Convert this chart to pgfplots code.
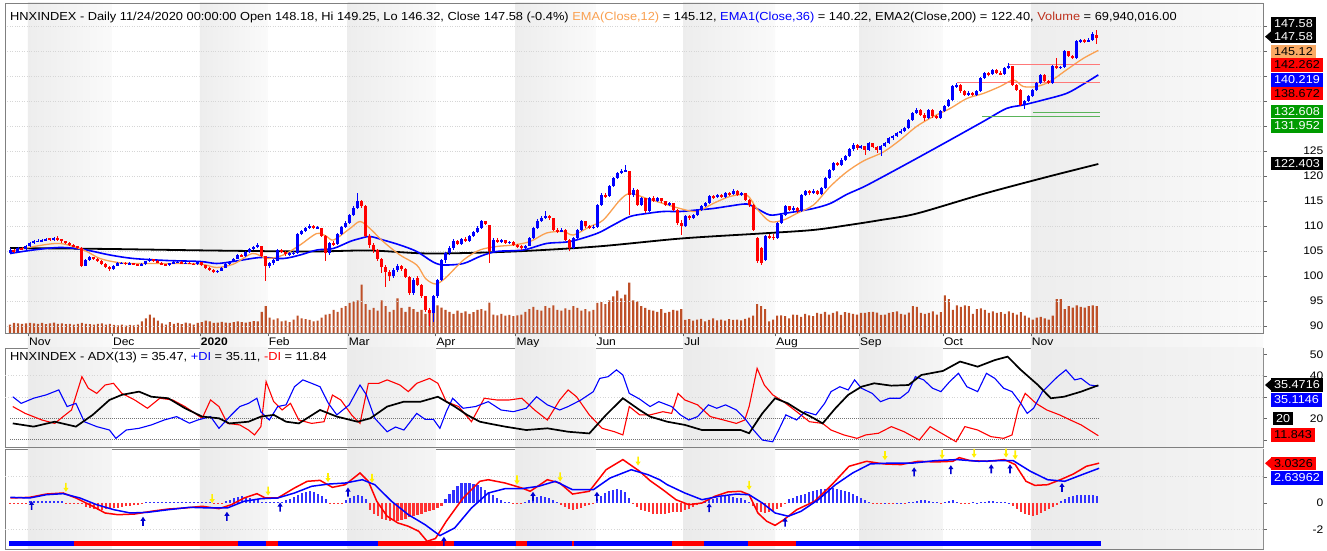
\documentclass[border=0pt]{standalone}
\usepackage{pgfplots}
\pgfplotsset{compat=1.18}
\usepackage{pgfplotstable}
\usepackage{fontspec}
\setmainfont{Liberation Sans}[FakeStretch=1.1]
\definecolor{cblue}{RGB}{0,0,255}
\definecolor{cred}{RGB}{255,0,0}
\definecolor{hblue}{RGB}{50,50,255}
\definecolor{hred}{RGB}{255,50,50}
\definecolor{corange}{RGB}{250,170,100}
\definecolor{emaor}{RGB}{250,160,80}
\definecolor{volc}{RGB}{190,80,40}
\definecolor{cgreen}{RGB}{0,155,0}
\definecolor{supred}{RGB}{255,120,120}
\definecolor{supgreen}{RGB}{90,180,90}
\definecolor{arrblue}{RGB}{0,0,210}
\definecolor{arryel}{RGB}{255,240,0}
\definecolor{titlered}{RGB}{190,50,30}

\pgfdeclareplotmark{uparr}{%
 \pgfpathmoveto{\pgfpoint{0bp}{4.5bp}}\pgfpathlineto{\pgfpoint{2.6bp}{0.5bp}}%
 \pgfpathlineto{\pgfpoint{0.8bp}{0.5bp}}\pgfpathlineto{\pgfpoint{0.8bp}{-4.5bp}}%
 \pgfpathlineto{\pgfpoint{-0.8bp}{-4.5bp}}\pgfpathlineto{\pgfpoint{-0.8bp}{0.5bp}}%
 \pgfpathlineto{\pgfpoint{-2.6bp}{0.5bp}}\pgfpathclose\pgfusepathqfill}
\pgfdeclareplotmark{dnarr}{%
 \pgfpathmoveto{\pgfpoint{0bp}{-4.5bp}}\pgfpathlineto{\pgfpoint{2.6bp}{-0.5bp}}%
 \pgfpathlineto{\pgfpoint{0.8bp}{-0.5bp}}\pgfpathlineto{\pgfpoint{0.8bp}{4.5bp}}%
 \pgfpathlineto{\pgfpoint{-0.8bp}{4.5bp}}\pgfpathlineto{\pgfpoint{-0.8bp}{-0.5bp}}%
 \pgfpathlineto{\pgfpoint{-2.6bp}{-0.5bp}}\pgfpathclose\pgfusepathqfill}

\pgfplotstableread{
o h l c v
104.6 105.5 104.4 105.2 22
105.2 105.4 104.6 104.8 26
104.8 105.7 104.7 105.5 25
105.5 105.8 105.2 105.4 24
105.3 106.1 105.2 105.9 25
105.9 106.7 105.7 106.5 26
106.5 107.1 106.3 106.9 25
106.9 107.3 106.7 107.0 24
107.0 107.4 106.8 107.1 26
107.1 107.6 106.9 107.4 23
107.5 107.6 107.0 107.2 25
107.2 107.7 107.0 107.5 27
107.5 107.9 107.0 107.3 24
107.3 107.4 106.6 106.9 25
106.9 107.0 106.3 106.5 23
106.5 106.7 106.0 106.2 24
106.2 106.3 105.7 105.9 22
105.9 106.0 105.4 105.6 24
105.6 105.7 101.8 102.0 26
102.0 103.4 101.9 103.2 24
103.2 103.9 103.0 103.7 23
103.7 103.8 103.1 103.4 22
103.4 103.5 102.8 103.0 24
103.0 103.1 102.2 102.4 25
102.4 102.5 101.6 101.8 22
101.8 102.0 100.9 101.3 24
101.3 102.2 101.2 102.0 21
102.0 102.7 101.9 102.5 20
102.5 102.8 102.3 102.6 22
102.6 102.7 102.2 102.4 19
102.4 102.7 102.2 102.5 21
102.5 102.6 102.1 102.3 20
102.3 102.4 101.9 102.0 22
102.0 102.5 101.9 102.3 30
102.3 103.0 102.2 102.9 38
102.9 103.6 102.8 103.3 48
103.3 103.4 102.8 103.0 40
103.0 103.1 102.5 102.6 32
102.6 102.7 102.1 102.3 25
102.3 102.4 101.9 102.1 22
102.1 102.6 102.0 102.5 28
102.5 102.9 102.4 102.7 24
102.7 103.0 102.6 102.8 26
102.8 102.9 102.4 102.5 23
102.5 102.8 102.4 102.6 27
102.6 102.7 102.3 102.4 25
102.4 102.5 102.1 102.3 22
102.3 102.9 102.2 102.7 26
102.7 102.8 102.0 102.1 28
102.1 102.2 101.4 101.6 32
101.6 101.7 100.9 101.1 30
101.1 101.3 100.6 100.8 26
100.8 101.2 100.6 101.0 27
101.0 101.8 100.9 101.6 29
101.6 102.5 101.5 102.3 27
102.3 103.0 102.2 102.8 26
102.8 103.6 102.7 103.4 28
103.4 104.3 103.3 104.1 30
104.1 104.3 103.7 103.9 28
103.9 104.9 103.8 104.7 27
104.7 105.5 104.5 105.3 29
105.3 106.0 105.1 105.8 31
105.8 106.5 105.6 106.2 30
105.9 106.0 103.7 103.9 55
103.9 104.0 98.9 101.9 70
101.9 102.8 101.5 102.5 40
102.5 103.4 102.2 103.2 35
103.0 105.3 102.9 105.2 38
105.2 105.4 104.6 104.8 30
104.8 104.9 104.0 104.3 32
104.3 104.7 104.0 104.5 28
104.5 104.9 104.2 104.6 35
104.5 108.6 104.4 108.4 45
108.4 109.1 108.2 108.9 38
108.9 109.7 108.7 109.5 36
109.5 110.3 109.3 109.9 34
109.9 110.1 109.3 109.5 30
109.5 110.0 109.3 109.7 32
109.5 109.6 107.8 108.0 40
108.0 108.1 102.9 104.5 48
104.5 106.8 104.2 106.6 50
106.6 107.0 106.0 106.3 60
106.3 108.6 106.2 108.4 55
108.4 110.0 108.2 109.8 65
109.8 110.9 109.5 110.6 70
110.6 112.4 110.4 112.1 78
112.1 113.9 111.9 113.6 82
113.6 116.5 113.4 114.9 85
114.9 115.2 113.6 113.9 126
114.0 114.2 107.8 108.0 75
108.0 108.3 105.6 106.1 60
106.1 106.5 104.6 105.2 65
105.2 105.4 102.9 103.4 58
103.4 103.6 100.5 101.8 85
101.8 102.1 97.8 100.8 70
100.8 101.1 98.9 100.0 55
100.0 101.5 99.6 101.2 60
101.2 102.3 100.8 101.9 90
101.9 102.1 101.0 101.3 65
101.3 101.5 99.5 99.8 55
99.8 100.0 96.2 96.5 68
96.5 99.6 96.2 99.2 62
99.6 99.9 97.9 98.2 55
98.2 98.4 95.5 95.9 60
95.9 96.0 92.8 93.2 50
93.2 93.6 89.9 92.5 58
92.5 96.1 90.8 95.9 62
95.9 99.4 95.6 99.2 72
99.2 103.4 99.0 103.2 66
103.2 104.8 102.6 104.5 60
104.5 105.9 104.2 105.5 55
105.5 107.3 105.2 107.0 50
107.0 107.2 106.1 106.4 58
106.4 107.6 106.2 107.4 52
107.4 107.8 106.8 107.0 56
107.0 108.2 106.8 108.0 50
108.0 109.0 107.8 108.8 54
108.8 109.9 108.6 109.6 60
109.6 111.2 109.4 110.9 62
110.9 111.0 110.1 110.4 58
110.1 110.2 102.5 104.9 79
104.9 107.6 104.6 107.2 48
107.2 107.6 106.5 106.8 46
106.8 107.4 106.6 107.1 50
107.1 107.2 106.3 106.6 45
106.6 107.0 106.3 106.8 47
106.8 106.9 106.0 106.2 44
106.2 106.4 105.6 105.9 46
105.9 106.1 105.2 105.5 48
105.5 106.2 105.3 106.0 55
106.0 107.7 105.9 107.5 62
107.5 109.7 107.4 109.5 68
109.5 111.3 109.3 111.0 60
111.0 111.9 110.8 111.6 58
111.6 112.9 111.4 111.9 70
111.9 112.2 111.2 111.5 65
111.5 111.6 108.9 109.2 72
109.2 109.5 108.6 108.9 60
108.9 109.5 108.7 109.2 58
109.2 109.3 107.0 107.2 64
107.2 107.3 104.9 105.6 60
105.6 107.7 105.4 107.5 70
107.5 109.4 107.3 109.2 65
109.2 111.2 109.0 110.9 58
110.9 111.0 109.6 109.9 62
109.9 110.2 109.3 109.6 56
109.6 110.1 109.3 109.8 60
109.8 114.4 109.6 114.2 78
114.2 116.5 114.0 116.2 80
116.2 116.6 115.6 115.9 75
115.9 118.1 115.8 117.9 85
117.9 119.7 117.7 119.5 95
119.5 120.8 119.3 120.5 110
120.5 121.3 120.3 120.9 90
120.9 122.2 120.7 121.1 100
120.9 121.0 112.2 116.2 131
116.2 117.6 115.8 117.2 85
117.2 117.3 113.9 114.2 82
114.2 115.8 114.0 115.5 70
115.5 115.6 112.6 112.9 65
112.9 115.8 112.7 115.5 60
115.5 115.9 114.7 115.0 58
115.0 115.8 114.8 115.5 55
115.5 115.6 114.6 114.9 62
114.9 115.0 114.0 114.2 52
114.2 114.8 114.0 114.5 55
114.5 114.6 113.0 113.2 60
113.2 113.3 110.2 110.5 58
110.5 111.2 108.2 109.9 62
109.9 112.2 109.7 111.9 34
111.9 112.1 111.2 111.5 36
111.5 112.4 111.3 112.2 32
112.2 113.4 112.0 113.2 35
113.2 114.1 113.0 113.9 37
113.9 114.8 113.7 114.5 30
114.5 116.1 114.3 115.9 34
115.9 116.2 115.4 115.7 38
115.7 116.4 115.5 116.1 33
116.1 116.3 115.5 115.8 35
115.8 116.8 115.6 116.5 32
116.5 116.8 116.0 116.3 36
116.3 117.3 116.1 117.0 34
117.0 117.2 116.0 116.2 35
116.2 116.8 116.0 116.5 33
116.5 116.6 115.0 115.2 37
115.2 115.3 113.8 114.2 40
114.2 114.3 109.0 109.2 45
107.6 107.8 102.6 102.9 75
105.5 105.8 102.2 102.6 70
103.2 108.1 103.0 107.9 62
107.9 108.3 107.4 107.8 30
107.8 108.3 107.2 107.6 35
107.6 110.7 107.4 110.5 45
110.5 112.4 110.3 112.2 46
112.2 114.1 112.0 113.9 44
113.9 114.0 112.9 113.2 38
113.2 113.9 113.0 113.6 48
113.6 113.8 112.6 112.9 47
112.9 116.4 112.7 116.2 42
116.2 117.2 116.0 116.9 50
116.9 117.1 116.2 116.5 46
116.5 117.3 116.3 117.0 44
117.0 117.1 116.1 116.4 52
116.4 117.7 116.2 117.5 50
117.5 119.7 117.3 119.5 55
119.5 121.4 119.3 121.2 48
121.2 122.8 121.0 122.5 52
122.5 122.8 121.9 122.2 56
122.2 123.5 122.0 123.2 47
123.2 124.2 123.0 123.9 54
123.9 125.5 123.7 125.3 52
125.3 126.5 125.0 126.2 50
126.2 126.4 125.2 125.5 48
125.5 126.2 125.3 125.9 52
125.9 126.0 124.2 125.2 52
125.2 126.7 125.0 126.5 54
126.5 126.6 125.5 125.8 55
125.8 125.9 124.6 125.2 53
125.2 126.1 123.9 125.9 47
125.9 126.7 125.7 126.5 48
126.5 127.7 126.3 127.5 52
127.5 128.1 127.2 127.9 54
127.9 128.8 127.7 128.5 56
128.5 129.3 128.3 128.9 50
128.9 129.8 128.7 129.5 48
129.5 131.4 129.3 131.2 53
131.2 132.7 131.0 132.5 70
132.5 133.5 132.3 133.2 68
133.2 133.4 131.9 132.2 52
132.2 132.5 131.0 131.5 50
131.5 133.4 131.3 133.2 52
133.2 133.3 131.6 131.9 56
131.9 132.2 131.3 131.6 48
131.6 133.1 131.4 132.9 54
132.9 134.1 132.7 133.9 98
133.9 135.4 133.7 135.2 88
135.2 138.1 135.0 137.9 60
137.9 138.6 137.6 138.2 72
138.2 138.4 136.6 136.9 68
136.9 137.1 136.0 136.2 72
136.2 136.9 136.0 136.6 70
136.6 136.8 135.9 136.2 50
136.2 137.1 136.0 136.9 62
136.9 139.7 136.7 139.5 64
139.5 140.7 139.3 140.5 60
140.5 140.8 140.0 140.3 52
140.3 141.4 140.1 141.2 56
141.2 141.3 140.3 140.5 52
140.5 140.9 140.1 140.4 54
140.4 141.7 140.2 141.5 50
141.5 142.5 141.3 141.9 56
141.9 142.0 138.0 138.2 52
138.2 138.4 137.0 137.2 48
137.2 137.3 134.0 134.2 54
134.2 135.1 133.3 134.9 45
134.9 136.1 134.7 135.9 40
135.9 137.4 135.7 137.2 35
137.2 138.7 137.0 138.5 40
138.5 140.4 138.3 140.2 42
140.2 140.3 138.7 138.9 38
138.9 139.2 138.4 138.6 35
138.6 142.1 138.4 141.9 45
141.9 143.5 141.4 141.6 88
141.6 142.0 141.3 141.8 88
141.8 145.1 141.6 144.9 62
144.9 145.0 143.7 143.9 70
143.9 144.2 143.3 143.5 66
143.5 147.1 143.3 146.9 72
146.9 147.4 146.6 147.1 68
147.1 147.3 146.6 146.9 66
146.9 147.5 146.7 147.2 70
147.2 148.7 147.0 148.3 72
148.18 149.25 146.32 147.58 70
}\candles

\newcommand\stripes[3]{%
\path[#3] (axis cs:4.5,#1) rectangle (axis cs:25.5,#2);
\path[#3] (axis cs:47.5,#1) rectangle (axis cs:64.5,#2);
\path[#3] (axis cs:84.5,#1) rectangle (axis cs:106.5,#2);
\path[#3] (axis cs:126.5,#1) rectangle (axis cs:146.5,#2);
\path[#3] (axis cs:168.5,#1) rectangle (axis cs:191.5,#2);
\path[#3] (axis cs:212.5,#1) rectangle (axis cs:233.5,#2);
\path[#3] (axis cs:255.5,#1) rectangle (axis cs:313.64,#2);}

\pgfplotsset{
 every axis/.append style={scale only axis, width=1258bp, anchor=south west,
   xmin=-1.252, xmax=313.64,
   /pgf/number format/assume math mode=true,
   ticklabel style={font=\fontsize{11}{13}\selectfont},
   axis line style={black!50}, tick style={black!60},
   tick align=outside, major tick length=3.5bp},
 rightticks/.style={ytick pos=right, yticklabel pos=right,
   yticklabel style={anchor=east, xshift=57bp, inner sep=0pt},
   xtick=\empty},
 wick/.style={draw=none, mark=none, forget plot, unbounded coords=discard,
   error bars/.cd, y dir=both, y explicit, error mark=none,
   error bar style={draw=#1, line width=0.9bp}},
 body/.style={draw=none, mark=none, forget plot, unbounded coords=discard,
   error bars/.cd, y dir=both, y explicit, error mark=none,
   error bar style={draw=#1, line width=3bp}},
}
\tikzset{vlab/.style={anchor=west, inner xsep=3bp, inner ysep=0pt,
  minimum height=13.5bp, font=\fontsize{11.5}{13}\selectfont}}

\begin{document}
\begin{tikzpicture}[x=1bp,y=1bp]
\useasboundingbox (0,0) rectangle (1327,551);
\fill[white] (0,0) rectangle (1327,551);

% background month stripes (price panel incl. label strip)
\begin{axis}[at={(5bp,203bp)}, height=345bp, ymin=0, ymax=1, hide axis]
\stripes{0}{1}{left color=black!7, right color=black!2}
\end{axis}

% volume
\begin{axis}[at={(5bp,218bp)}, height=330bp, ymin=0, ymax=858, hide axis]
\addplot[ybar, bar width=2.1bp, fill=volc, draw=none, forget plot]
  table[x expr=\coordindex, y=v] {\candles};
\end{axis}

% price
\begin{axis}[at={(5bp,218bp)}, height=330bp, ymin=88.6, ymax=154.6,
  ytick={90,95,...,150}, yticklabels={90,95,100,105,110,115,120,125,{},{},{},{},{}},
  ytick pos=right, yticklabel pos=right,
  yticklabel style={anchor=east, xshift=57bp, inner sep=0pt},
  ymajorgrids, grid style={dotted, black!16},
  xtick={4.5,25.5,47.5,64.5,84.5,106.5,126.5,146.5,168.5,191.5,212.5,233.5,255.5},
  xticklabels={Nov,Dec,\textbf{2020},Feb,Mar,Apr,May,Jun,Jul,Aug,Sep,Oct,Nov},
  xtick pos=left, xticklabel style={anchor=north west, xshift=1bp, inner sep=0pt, yshift=-1bp}]
\addplot[black, line width=1.8bp, smooth] coordinates {(0,105.6) (25,105.4) (50,105.1) (75,104.9) (90,105.1) (105,104.5) (126,104.9) (147,105.9) (168,107.5) (188,108.5) (201,109.2) (210,110.2) (218,111.2) (227,112.5) (244,116.5) (260,119.9) (272.4,122.4)};
\addplot[cblue, line width=1.6bp, smooth] coordinates {(0,104.5) (5.8,105.2) (12.5,105.7) (18.4,105.3) (25,104.2) (30.9,103.5) (39.2,103.1) (47.6,102.9) (51.7,102.5) (55.9,102.9) (62.6,103.7) (68.4,103.5) (72.6,104.2) (76.8,105.2) (80.9,105.5) (85.1,106.9) (87.6,107.5) (90.1,107.9) (93.4,107.2) (97.6,106.2) (101.8,104.9) (105.9,102.8) (108.5,102.2) (113.5,102.5) (117.6,103.9) (121.8,104.9) (128.5,105.2) (134.3,106.5) (140.2,106.9) (146.9,108.5) (151,110.2) (155.2,111.9) (159.4,112.5) (163.5,112.9) (167.7,112.9) (171.9,113.2) (176,113.5) (180.2,114.0) (184.4,114.4) (186.9,113.5) (190.2,112.2) (193.6,112.5) (196.9,112.9) (201.1,113.5) (205.3,114.5) (209.4,116.3) (213.6,117.8) (218.6,119.9) (226.9,123.5) (235.3,127.2) (243.6,130.9) (249.4,133.5) (253.6,134.2) (258.6,135.2) (264.4,136.5) (268.5,138.3) (272.4,140.22)};
\addplot[emaor, line width=1.3bp, smooth] coordinates {(0,104.9) (6,105.9) (12.5,106.5) (18.4,105.2) (22.5,103.5) (27,102.7) (31,102.5) (39,102.5) (47.6,102.4) (51.7,101.7) (56,102.4) (60.7,104.5) (64.4,103.5) (68.4,104.2) (72.6,106.2) (76.8,108.5) (79.3,107.9) (81,107.2) (85.1,109.5) (87.6,110.9) (90.1,109.5) (93.4,106.9) (97.6,104.2) (101.8,102.2) (104,99.5) (106.5,98.4) (109,99.6) (113.5,103.2) (117.6,105.2) (121.8,105.9) (126,106.2) (130.2,106.9) (134.3,108.6) (138.5,108.9) (141,108.2) (145.2,109.9) (148.5,111.2) (152.7,115.2) (155.2,116.5) (159.4,115.5) (163.5,114.5) (167.7,113.5) (171.9,112.9) (176,114.5) (180.2,115.9) (184.4,116.2) (186.9,113.5) (190.2,110.9) (193.6,111.2) (196.9,112.5) (201.1,114.2) (205.3,117.9) (209.4,120.8) (213.6,123.0) (218.6,124.8) (222.8,127.2) (226.9,129.9) (231.1,131.9) (235.3,133.5) (239.5,135.5) (243.6,136.5) (247.8,137.9) (251.2,139.2) (253.6,137.9) (257,137.9) (260.3,138.9) (264.4,141.2) (268.6,143.5) (272.4,145.12)};
\addplot[supred, line width=1.3bp] coordinates {(249.8,142.262) (272.8,142.262)};
\addplot[supred, line width=1.3bp] coordinates {(237,138.672) (272.8,138.672)};
\addplot[supgreen, line width=1bp] coordinates {(256,132.608) (272.8,132.608)};
\addplot[supgreen, line width=1bp] coordinates {(243.3,131.952) (272.8,131.952)};
% candles
\addplot[y filter/.expression={\thisrow{c}<\thisrow{o} ? nan : y}, wick=cblue]
  table[x expr=\coordindex, y expr={(\thisrow{h}+\thisrow{l})/2}, y error expr={(\thisrow{h}-\thisrow{l})/2}] {\candles};
\addplot[y filter/.expression={\thisrow{c}<\thisrow{o} ? y : nan}, wick=cred]
  table[x expr=\coordindex, y expr={(\thisrow{h}+\thisrow{l})/2}, y error expr={(\thisrow{h}-\thisrow{l})/2}] {\candles};
\addplot[y filter/.expression={\thisrow{c}<\thisrow{o} ? nan : y}, body=cblue]
  table[x expr=\coordindex, y expr={(\thisrow{o}+\thisrow{c})/2}, y error expr={max(abs(\thisrow{c}-\thisrow{o})/2,0.08)}] {\candles};
\addplot[y filter/.expression={\thisrow{c}<\thisrow{o} ? y : nan}, body=cred]
  table[x expr=\coordindex, y expr={(\thisrow{o}+\thisrow{c})/2}, y error expr={max(abs(\thisrow{c}-\thisrow{o})/2,0.08)}] {\candles};
\end{axis}

% ADX
\begin{axis}[at={(5bp,104bp)}, height=99bp, ymin=6.545, ymax=52.96,
  rightticks, ytick={10,20,30,40,50}, yticklabels={{},20,{},40,50}]
\stripes{6.545}{52.96}{left color=black!8, right color=black!4}
\addplot[black!16, dotted, line width=0.8bp, forget plot] coordinates {(-1.25,30) (313.6,30)};
\addplot[black!16, dotted, line width=0.8bp, forget plot] coordinates {(-1.25,40) (313.6,40)};
\addplot[black!55, densely dotted, line width=1bp] coordinates {(0,20) (272.5,20)};
\addplot[black!55, densely dotted, line width=1bp] coordinates {(0,10) (272.5,10)};
\addplot[cred, line width=1.1bp] coordinates {(0.7,25.5) (3.8,22.3) (8,19.2) (11.2,17.6) (13.3,20.8) (15.4,23.9) (18,39.5) (19.6,34.1) (21.7,31.7) (23.8,35.6) (25.9,36.4) (28,31.7) (31.2,28.6) (34.4,24.7) (37.5,29.4) (40.7,28.6) (43.8,25.5) (48.1,20) (50.2,28.6) (52.3,25.5) (54.4,17.6) (57.5,16.9) (59.7,14.5) (61.2,12.2) (62.8,16.1) (64.1,37.2) (66,27.8) (68.1,23.9) (70.2,27.0) (72.3,19.2) (75.5,17.6) (78.6,18.4) (80.7,30.9) (82.8,28.6) (85.5,21.6) (87.6,17.6) (89.7,36.4) (92.3,36.4) (94.4,38) (97.6,35.6) (99.7,32.5) (101.8,36.4) (105,38.7) (107.1,36.4) (109.2,27.8) (112.3,25.5) (115.5,18.4) (118.7,29.4) (121.8,28.6) (125,28.6) (128.1,29.4) (131.3,23.9) (134.5,19.2) (137.6,28.6) (139.7,33.3) (141.8,30.1) (145,21.6) (148.2,15.3) (151.3,13.7) (153.4,12.2) (155,25.5) (157.6,21.6) (160.2,21.6) (163.4,23.1) (165.6,22.3) (167.2,31.7) (168.9,28.6) (172.1,26.3) (175.3,20.8) (178.6,19.2) (181.8,17.6) (183.9,19.2) (185,25.5) (187,43.4) (188.8,35.6) (190.9,31) (193.6,27.8) (196.9,23.1) (200.1,18.4) (203.4,17.6) (205.5,14.5) (208.7,12.2) (212,10.6) (214.2,12.2) (217.4,13) (220.6,16.1) (223.8,13.7) (227.6,9.8) (230.3,16.1) (232.5,13.7) (236.8,9.0) (239,16.1) (242.2,14.5) (245.5,11.4) (248.7,10.6) (250.8,12.2) (252.4,24.7) (254.1,31.7) (256.8,27.0) (259.5,23.9) (262.7,21.6) (265.4,19.2) (268.1,16.9) (272.4,11.84)};
\addplot[cblue, line width=1.1bp] coordinates {(0.7,30.1) (2.8,27.0) (5.9,29.4) (9.1,31) (12.2,33.3) (14.3,25.5) (16.5,27) (18.6,18.4) (21.7,16.1) (24.9,14.5) (26.5,10.6) (29.1,14.5) (32.3,15.3) (35.4,16.9) (38.6,19.2) (41.7,20.8) (44.9,17.7) (47,19.2) (50.2,20.8) (52.3,15.3) (55.4,21.6) (57.5,25.5) (59.7,27.0) (61.8,29.4) (62.8,23) (64.9,19.2) (67,25.5) (69.1,26.3) (71.2,34.8) (73.3,38) (75.5,36.4) (77.6,34.8) (79.7,27.0) (81.8,21.6) (84.9,26.3) (87.6,35.6) (89.2,31) (91.3,20) (94.4,13.7) (96.5,15.9) (98.6,14.5) (101.8,22.3) (103.9,19.5) (106,19.5) (107.6,15.3) (109.2,23.1) (110.8,29.4) (113.4,24.7) (116.5,25.5) (119.7,27.8) (122.9,23.9) (126,23.1) (129.2,24.7) (131.8,30.1) (134.5,26.3) (137.6,23.9) (139.7,25.5) (142.9,28.6) (146,32.5) (147.6,38.7) (149.7,39.5) (151.8,42.7) (153.4,40.3) (155,31.7) (157.6,29) (160.2,25.5) (162.4,27.8) (165.6,25.5) (167.8,21.6) (169.9,19.2) (172.1,20.8) (174.8,26.3) (176.9,24.7) (179.1,26.3) (181.8,23.9) (183.9,20) (186.1,14.5) (188.3,9.8) (190.9,9.0) (192.6,15.3) (194.2,21.6) (196.9,19.2) (199,23.1) (201.7,21.6) (203.9,27.0) (205.5,32.5) (207.7,34.8) (209.8,33.3) (211.4,38) (213.1,34.1) (215.8,31.7) (217.9,27.8) (220.1,29.4) (222.8,29.4) (224.9,32.5) (226.6,39.5) (228.7,38) (230.9,34.1) (233,32.5) (235.2,37.2) (237.4,41.1) (239.5,34.8) (242.2,32.5) (244.4,41.1) (246.5,38.7) (248.7,34.1) (250.8,32.5) (253,27.0) (254.6,22.3) (256.2,24.7) (258.4,32.5) (260.5,36.4) (262.2,39.5) (264.3,42.7) (266.5,38) (268.1,38.7) (270.3,35.6) (272.4,35.11)};
\addplot[black, line width=1.7bp] coordinates {(0.7,17.6) (5.9,16.1) (11.2,18.4) (16.5,16.1) (20.7,21.6) (24.9,28.6) (28,31) (32.3,32.5) (35.4,30.1) (39.6,29.4) (43.8,24.7) (48.1,20.8) (52.3,20) (54.9,17.6) (59.7,18.4) (62.8,20.8) (66,21.6) (69.1,18.4) (72.3,17.6) (77.6,23.9) (81.8,20.8) (87,18.4) (90.2,20) (94.4,25.5) (98.6,27.8) (102.8,27.8) (107.1,30.1) (111.3,25.5) (114.4,21.6) (117.6,18.4) (119.7,17.6) (123.9,16.1) (129.2,14.5) (134.5,15.3) (139.7,13.7) (145,12.9) (149.2,21.6) (153.4,29.4) (157.6,23.9) (160.2,20.8) (164.5,18.4) (168.9,16.9) (173.2,14.5) (178.6,14.5) (182.9,14.5) (185,13) (188.3,22.3) (191.5,29.4) (194.7,27.0) (198,23.1) (201.2,20) (203.4,17.6) (206.6,24.7) (209.8,31) (213.1,34.8) (216.3,36.4) (220.6,35.3) (224.9,35.6) (228.1,40.3) (233.5,42.2) (237.8,46.6) (242.2,44.2) (246.5,47.3) (249.7,48.9) (253,42.7) (257.3,35.6) (260.5,29.4) (263.8,30.1) (268.1,32.5) (272.4,35.47)};
\end{axis}

% MACD
\begin{axis}[at={(5bp,2bp)}, height=100bp, ymin=-3.498, ymax=4.106,
  rightticks, ytick={-2,0,2}, yticklabels={-2,0,{}}]
\stripes{-3.498}{4.106}{left color=black!8, right color=black!4}
\addplot[black!16, dotted, line width=0.8bp, forget plot] coordinates {(-1.25,2) (313.6,2)};
\addplot[black!16, dotted, line width=0.8bp, forget plot] coordinates {(-1.25,-2) (313.6,-2)};
\addplot[ycomb, draw=hblue, line width=2.1bp, mark=none, forget plot] coordinates {
(5,0.12) (6,0.12) (7,0.12) (8,0.12) (9,0.12) (10,0.12) (11,0.12) (12,0.12) (13,0.12)
(34,0.08) (35,0.08) (36,0.08) (37,0.08) (38,0.08) (39,0.08) (40,0.08) (41,0.08) (42,0.08) (43,0.08) (44,0.08) (45,0.08) (46,0.08) (47,0.08) (48,0.08) (49,0.08) (50,0.08)
(54,0.15) (55,0.25) (56,0.35) (57,0.45) (58,0.5) (59,0.45) (60,0.4) (61,0.3) (62,0.2)
(63,0.1) (64,0.05) (65,0.08) (66,0.1) (67,0.08) (68,0.1) (69,0.2) (70,0.3)
(71,0.45) (72,0.6) (73,0.75) (74,0.85) (75,0.9) (76,0.85) (77,0.7) (78,0.5) (79,0.3)
(84,0.2) (85,0.35) (86,0.5) (87,0.6) (88,0.5) (89,0.3)
(109,0.3) (110,0.7) (111,1.0) (112,1.3) (113,1.5) (114,1.55) (115,1.5) (116,1.45) (117,1.35) (118,1.2) (119,1.0) (120,0.8) (121,0.6) (122,0.4) (123,0.2)
(124,0.08) (125,0.05) (129,0.05)
(130,0.2) (131,0.35) (132,0.45) (133,0.5) (134,0.45) (135,0.35) (136,0.2) (137,0.05)
(147,0.3) (148,0.55) (149,0.75) (150,0.9) (151,1.0) (152,1.05) (153,1.0) (154,0.8) (155,0.4)
(174,0.1) (175,0.2) (176,0.3) (177,0.4) (178,0.45) (179,0.5) (180,0.5) (181,0.45) (182,0.4) (183,0.35) (184,0.25) (185,0.1)
(195,0.3) (196,0.4) (197,0.5) (198,0.6) (199,0.7) (200,0.8) (201,0.9) (202,1.0) (203,1.05) (204,1.1) (205,1.15) (206,1.15) (207,1.1) (208,1.0) (209,0.9) (210,0.8) (211,0.65) (212,0.5) (213,0.35) (214,0.2) (215,0.1)
(219,0.03) (222,0.03) (223,0.03) (225,0.05)
(226,0.1) (227,0.15) (228,0.2) (229,0.2) (230,0.15) (231,0.08)
(232,0.05) (234,0.05) (235,0.15) (236,0.2) (237,0.1)
(241,0.05) (242,0.03) (243,0.05)
(244,0.1) (245,0.15) (246,0.12) (247,0.1) (248,0.08) (249,0.05) (250,0.03)
(263,0.15) (264,0.3) (265,0.45) (266,0.55) (267,0.6) (268,0.63) (269,0.63) (270,0.6) (271,0.6) (272,0.55)};
\addplot[ycomb, draw=hred, line width=2.1bp, mark=none, forget plot] coordinates {
(0,-0.05) (1,-0.05) (2,-0.05) (3,-0.05) (4,-0.05)
(14,-0.05) (15,-0.05) (16,-0.05) (17,-0.05) (18,-0.05)
(19,-0.3) (20,-0.38) (21,-0.45) (22,-0.5) (23,-0.5) (24,-0.48) (25,-0.45) (26,-0.4) (27,-0.35) (28,-0.3) (29,-0.25)
(30,-0.2) (31,-0.15) (32,-0.12) (33,-0.08)
(51,-0.08) (52,-0.08) (53,-0.08)
(80,-0.08) (81,-0.1) (82,-0.08) (83,-0.05)
(90,-0.5) (91,-0.8) (92,-1.0) (93,-1.2) (94,-1.3) (95,-1.4) (96,-1.4) (97,-1.35) (98,-1.3) (99,-1.2) (100,-1.1) (101,-1.0) (102,-0.9) (103,-0.8) (104,-0.7) (105,-0.6) (106,-0.5) (107,-0.35) (108,-0.2)
(126,-0.05) (127,-0.08) (128,-0.05)
(138,-0.15) (139,-0.3) (140,-0.45) (141,-0.5) (142,-0.45) (143,-0.35) (144,-0.25) (145,-0.15) (146,-0.05)
(156,-0.1) (157,-0.3) (158,-0.5) (159,-0.6)
(160,-0.7) (161,-0.8) (162,-0.85) (163,-0.85) (164,-0.8) (165,-0.75) (166,-0.7) (167,-0.7) (168,-0.65) (169,-0.55) (170,-0.45) (171,-0.3) (172,-0.15) (173,-0.05)
(186,-0.2) (187,-0.5) (188,-0.7) (189,-0.75) (190,-0.7) (191,-0.6) (192,-0.45) (193,-0.3) (194,-0.1)
(216,-0.05) (217,-0.05) (218,-0.05) (220,-0.05) (221,-0.05) (224,-0.03)
(233,-0.03)
(238,-0.05) (239,-0.08) (240,-0.05)
(251,-0.2) (252,-0.45) (253,-0.65) (254,-0.8) (255,-0.95) (256,-1.0) (257,-0.9) (258,-0.75) (259,-0.6) (260,-0.45) (261,-0.3) (262,-0.15)};
\addplot[cred, line width=1.5bp] coordinates {(0.1,0.38) (4.9,0.43) (9.1,0.68) (13.3,0.76) (16.5,0.38) (20.7,-0.25) (23.8,-0.76) (27,-0.89) (31.2,-0.84) (35.4,-0.63) (39.6,-0.46) (43.8,-0.38) (48.1,-0.25) (52.3,-0.43) (55.4,-0.13) (58.6,0.38) (61.8,0.71) (63.9,0.38) (67,0.38) (71.2,1.14) (74.4,1.65) (77.6,1.72) (80.7,1.19) (83.9,1.39) (87.6,2.28) (89.7,1.65) (91.8,0.13) (94.4,-1.01) (97.1,-1.52) (99.7,-1.77) (102.3,-2.15) (104.4,-2.91) (106.5,-2.7) (109.2,-1.39) (113.4,0.38) (117.6,1.65) (119.7,1.77) (123.9,1.52) (128.1,1.14) (130.2,0.89) (134.5,1.77) (137.6,1.52) (140.8,0.68) (145,0.89) (149.2,2.53) (153.4,3.30) (157.6,2.41) (160.2,1.7) (163.4,1.01) (166.7,0.25) (169.9,-0.13) (173.2,0.0) (176.4,0.51) (179.7,0.84) (182.9,0.89) (185,0.63) (187.2,-0.76) (189.4,-1.39) (191.5,-1.70) (193.7,-1.27) (196.9,-0.51) (201.4,0.13) (205.7,1.39) (210,2.79) (214.4,3.17) (218.7,2.97) (223,2.92) (227.3,3.17) (231.6,3.12) (236,3.17) (237.6,3.45) (240.3,3.22) (244.6,3.17) (248.9,3.30) (251.6,2.92) (254.3,1.65) (256.5,1.34) (259.7,1.39) (262.9,1.77) (266.2,2.21) (269.4,2.79) (272.6,3.03)};
\addplot[cblue, line width=1.5bp] coordinates {(0.1,0.43) (4.9,0.38) (9.1,0.63) (13.3,0.71) (17.5,0.38) (21.7,-0.13) (26,-0.51) (30.1,-0.76) (34.4,-0.71) (39.6,-0.51) (44.9,-0.33) (50.2,-0.38) (54.4,-0.38) (58.6,0.13) (62.8,0.33) (67,0.38) (71.2,0.76) (75.5,1.27) (79.7,1.44) (83.9,1.52) (88.2,1.77) (91.3,1.39) (95.5,0.13) (99.7,-0.89) (103.9,-1.65) (107.6,-2.48) (111.3,-1.90) (115.5,-0.38) (119.7,0.76) (123.9,1.09) (128.1,1.09) (132.3,1.27) (136.5,1.65) (140.8,1.01) (146,1.01) (150.2,1.90) (155.5,2.53) (159.7,2.15) (162.6,1.77) (164.5,1.39) (168.9,0.76) (173.2,0.25) (177.5,0.51) (181.8,0.68) (185,0.63) (188.3,0.0) (191.5,-0.76) (194.8,-1.01) (198,-0.63) (202.3,0.25) (206.6,1.39) (210.9,2.28) (215.3,2.97) (220.7,3.04) (226.1,3.04) (231.6,3.22) (237,3.30) (242.4,3.17) (247.8,3.22) (251.1,3.22) (255.4,2.41) (259.7,1.77) (264,1.65) (268.3,2.15) (272.6,2.64)};
\addplot[cblue, line width=5bp, unbounded coords=jump] coordinates {(-0.25,-3.08) (16,-3.08) (16,nan) (57.1,-3.08) (64.1,-3.08) (64.1,nan) (67.1,-3.08) (92.1,-3.08) (92.1,nan) (111.1,-3.08) (126.7,-3.08) (126.7,nan) (129.4,-3.08) (140.7,-3.08) (140.7,nan) (141.2,-3.08) (165.7,-3.08) (165.7,nan) (173.7,-3.08) (184.7,-3.08) (184.7,nan) (196.7,-3.08) (273.1,-3.08)};
\addplot[cred, line width=5bp, unbounded coords=jump] coordinates {(16,-3.08) (57.1,-3.08) (57.1,nan) (64.1,-3.08) (67.1,-3.08) (67.1,nan) (92.1,-3.08) (111.1,-3.08) (111.1,nan) (126.7,-3.08) (129.4,-3.08) (129.4,nan) (140.7,-3.08) (141.2,-3.08) (141.2,nan) (165.7,-3.08) (173.7,-3.08) (173.7,nan) (184.7,-3.08) (196.7,-3.08)};
\addplot[only marks, mark=uparr, arrblue] coordinates {(5.4,-0.19) (33.3,-1.39) (54.3,-1.01) (67.6,-0.31) (84.6,0.83) (108.6,-2.91) (130.9,0.51) (146.9,0.51) (175.0,-0.36) (194.0,-1.45) (226.3,2.37) (235.5,2.53) (245.6,2.6) (250.3,2.6) (263.3,1.18)};
\addplot[only marks, mark=dnarr, arryel] coordinates {(14.0,1.19) (50.6,0.33) (64.6,0.91) (79.6,1.93) (90.6,1.88) (126.9,1.75) (137.7,1.98) (157.2,3.19) (185.0,1.34) (219.0,3.6) (233.3,3.7) (241.3,3.78) (249.3,3.8) (251.6,3.65)};
\end{axis}

% titles
\node[anchor=west, inner sep=0pt, font=\fontsize{11.7}{13}\selectfont] at (10,534) {HNXINDEX - Daily 11/24/2020 00:00:00 Open 148.18, Hi 149.25, Lo 146.32, Close 147.58 (-0.4\%) \textcolor{emaor}{EMA(Close,12)} = 145.12, \textcolor{cblue}{EMA1(Close,36)} = 140.22, EMA2(Close,200) = 122.40, \textcolor{titlered}{Volume} = 69,940,016.00};
\node[anchor=west, inner sep=0pt, font=\fontsize{11.7}{13}\selectfont] at (10,194) {HNXINDEX - ADX(13) = 35.47, \textcolor{cblue}{+DI} = 35.11, \textcolor{cred}{-DI} = 11.84};

% right value labels
\node[vlab, fill=black, text=white] at (1271,527.7) {147.58};
\fill[black] (1265,514.3) -- (1271.5,520) -- (1271.5,508.6) -- cycle;
\node[vlab, fill=black, text=white] at (1271,514.3) {147.58};
\node[vlab, fill=corange, text=black] at (1271,499.3) {145.12};
\node[vlab, fill=cred, text=black] at (1271,486) {142.262};
\node[vlab, fill=cblue, text=white] at (1271,471) {140.219};
\node[vlab, fill=cred, text=black] at (1271,457.7) {138.672};
\node[vlab, fill=cgreen, text=white] at (1271,439.3) {132.608};
\node[vlab, fill=cgreen, text=white] at (1271,425) {131.952};
\node[vlab, fill=black, text=white] at (1271,387.7) {122.403};
\fill[black] (1265,166) -- (1271.5,171.7) -- (1271.5,160.3) -- cycle;
\node[vlab, fill=black, text=white] at (1271,166) {35.4716};
\node[vlab, fill=cblue, text=white] at (1271,151) {35.1146};
\node[vlab, fill=black, text=white] at (1273,132.7) {20};
\node[vlab, fill=cred, text=black] at (1271,116) {11.843};
\fill[cred] (1265,87.7) -- (1271.5,93.4) -- (1271.5,82) -- cycle;
\node[vlab, fill=cred, text=black] at (1271,87.7) {3.0326};
\node[vlab, fill=cblue, text=white] at (1271,73) {2.63962};
\end{tikzpicture}
\end{document}
